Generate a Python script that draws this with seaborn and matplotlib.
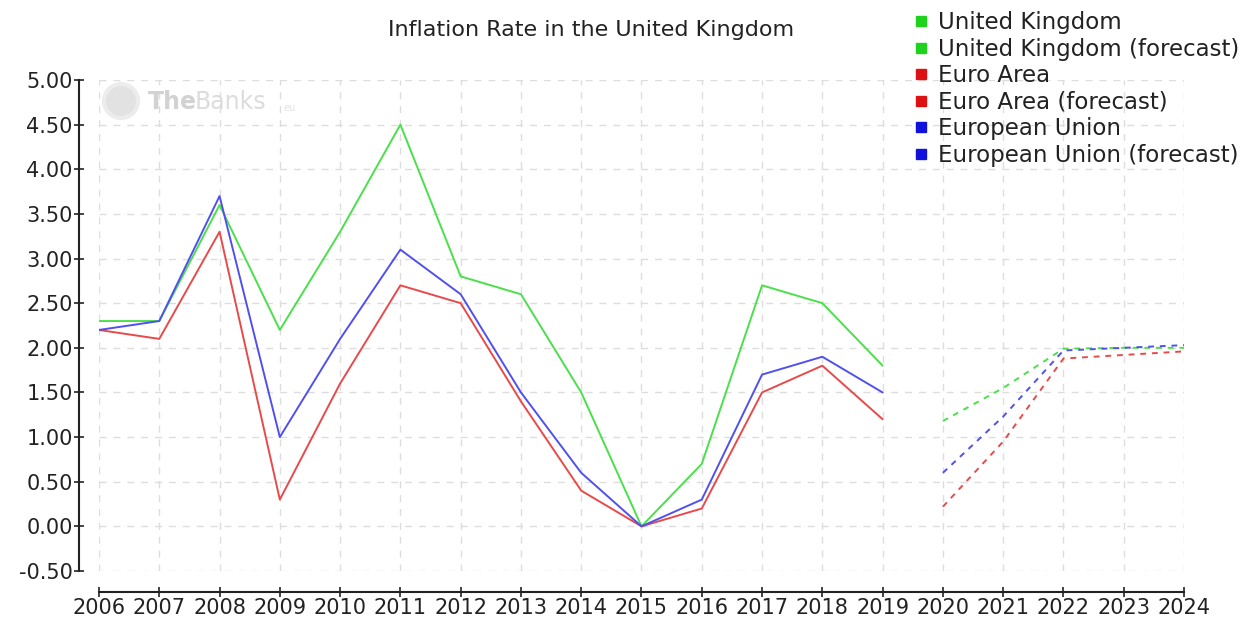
import matplotlib
matplotlib.use("Agg")
import matplotlib.pyplot as plt
import seaborn as sns
import pandas as pd
from matplotlib.lines import Line2D
from matplotlib.patches import Circle

years_hist = list(range(2006, 2020))
years_fc = [2020, 2021, 2022, 2023, 2024]

uk_hist = [2.3, 2.3, 3.6, 2.2, 3.3, 4.5, 2.8, 2.6, 1.5, 0.0, 0.7, 2.7, 2.5, 1.8]
ea_hist = [2.2, 2.1, 3.3, 0.3, 1.6, 2.7, 2.5, 1.4, 0.4, 0.0, 0.2, 1.5, 1.8, 1.2]
eu_hist = [2.2, 2.3, 3.7, 1.0, 2.1, 3.1, 2.6, 1.5, 0.6, 0.0, 0.3, 1.7, 1.9, 1.5]

uk_fc = [1.18, 1.55, 1.99, 2.0, 2.0]
ea_fc = [0.22, 0.95, 1.88, 1.92, 1.96]
eu_fc = [0.6, 1.23, 1.97, 2.0, 2.03]

series_names = ["United Kingdom", "Euro Area", "European Union"]
legend_labels = ["United Kingdom", "United Kingdom (forecast)", "Euro Area",
                 "Euro Area (forecast)", "European Union", "European Union (forecast)"]
y_ticks = [-0.5, 0.0, 0.5, 1.0, 1.5, 2.0, 2.5, 3.0, 3.5, 4.0, 4.5, 5.0]
x_ticks = list(range(2006, 2025))

line_colors = {"United Kingdom": "#4be04b", "Euro Area": "#e84a4a", "European Union": "#5050ee"}
legend_colors = ["#1ed21e", "#1ed21e", "#dd1111", "#dd1111", "#1111dd", "#1111dd"]

rows = []
for name, h, f in zip(series_names, [uk_hist, ea_hist, eu_hist], [uk_fc, ea_fc, eu_fc]):
    for y, v in zip(years_hist, h):
        rows.append({"year": y, "value": v, "series": name, "kind": "actual"})
    for y, v in zip(years_fc, f):
        rows.append({"year": y, "value": v, "series": name, "kind": "forecast"})
df = pd.DataFrame(rows)

sns.set_style("white")
plt.rcParams["font.family"] = ["DejaVu Sans"]

fig = plt.figure(figsize=(12.45, 6.19), dpi=100)
ax = fig.add_axes([99 / 1245, 1 - 571 / 619, (1184 - 99) / 1245, (571 - 80) / 619])

# grid
for x in x_ticks:
    ax.axvline(x, color="#dddddd", lw=1, ls=(0, (5, 5)), zorder=0)
for y in y_ticks:
    ax.axhline(y, color="#dddddd", lw=1, ls=(0, (5, 5)), zorder=0)

sns.lineplot(data=df, x="year", y="value", hue="series", style="kind",
             palette=line_colors, dashes={"actual": "", "forecast": (3, 3)},
             hue_order=series_names, style_order=["actual", "forecast"],
             linewidth=1.4, ax=ax, legend=False, zorder=3)

ax.set_xlim(2006, 2024)
ax.set_ylim(-0.5, 5.0)
ax.set_xticks(x_ticks)
ax.set_xticklabels([str(x) for x in x_ticks])
ax.set_yticks(y_ticks)
ax.set_yticklabels([f"{v:.2f}" for v in y_ticks])
ax.set_xlabel("")
ax.set_ylabel("")

for s in ["top", "right"]:
    ax.spines[s].set_visible(False)
ax.spines["left"].set_position(("outward", 14.5))
ax.spines["bottom"].set_position(("outward", 15))
for s in ["left", "bottom"]:
    ax.spines[s].set_color("#222222")
    ax.spines[s].set_linewidth(1.5)
ax.tick_params(axis="both", bottom=True, left=True, direction="inout", length=7, width=1.2,
               color="#222222", labelsize=15, labelcolor="#222222")
ax.tick_params(axis="x", pad=1)
ax.tick_params(axis="y", pad=1)
ax.set_facecolor("white")

# watermark
fig.patches.append(Circle((1.21, (619 - 101) / 100), 0.17, transform=fig.dpi_scale_trans,
                          facecolor="#e2e2e2", edgecolor="#ececec", lw=3, zorder=1))
fig.text(148 / 1245, 1 - 102 / 619, "The", color="#d2d2d2", fontsize=17,
         fontweight="bold", va="center", ha="left")
fig.text(195 / 1245, 1 - 102 / 619, "Banks", color="#dcdcdc", fontsize=17,
         va="center", ha="left")
fig.text(283 / 1245, 1 - 108 / 619, "eu", color="#e2e2e2", fontsize=7, va="center", ha="left")

fig.text(591 / 1245, 1 - 30 / 619, "Inflation Rate in the United Kingdom",
         ha="center", va="center", fontsize=16, color="#222222")

handles = [Line2D([0], [0], marker="s", color="none", markerfacecolor=c, markeredgecolor=c,
                  markersize=6.5) for c in legend_colors]
fig.legend(handles, legend_labels, loc="upper left", bbox_to_anchor=(915 / 1245, 1 - 11 / 619),
           frameon=False, fontsize=16.5, handlelength=0.5, handletextpad=0.5,
           labelspacing=0.155, borderaxespad=0, borderpad=0, labelcolor="#222222")

fig.savefig("out.png", dpi=100, facecolor="white")
